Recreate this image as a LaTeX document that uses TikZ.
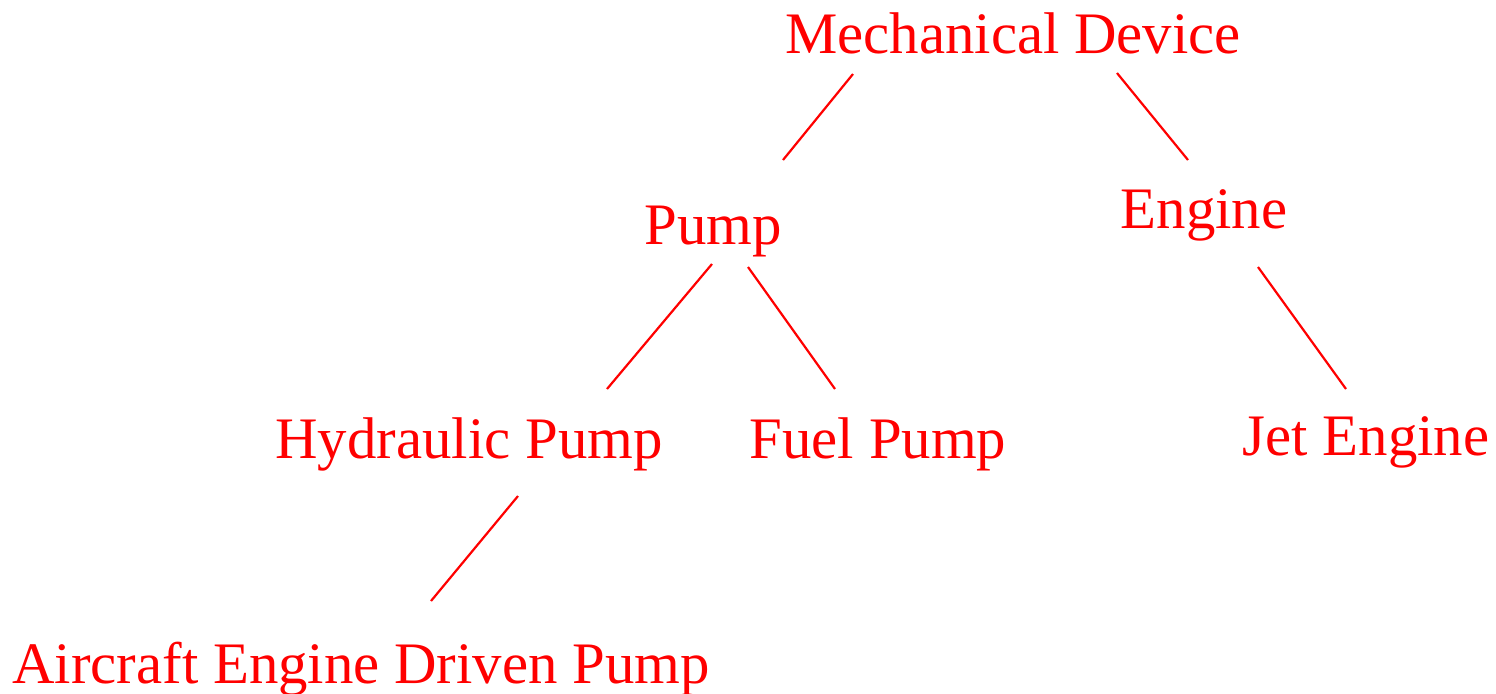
\documentclass[tikz,border=0pt]{standalone}
\usepackage{fontspec}
\setmainfont{Liberation Serif}
\begin{document}
\begin{tikzpicture}[x=0.5pt,y=-0.5pt,
  lbl/.style={text=red, font=\fontsize{29.4}{35}\selectfont, anchor=base, inner sep=0pt},
  edge/.style={draw=red, line width=1.1pt}]
\useasboundingbox (0,0) rectangle (1496,693);
\node[lbl] (md) at (1013,53) {Mechanical Device};
\node[lbl] (pump) at (713,244) {Pump};
\node[lbl] (eng) at (1204,228) {Engine};
\node[lbl] (hyd) at (469,458) {Hydraulic Pump};
\node[lbl] (fuel) at (878,458) {Fuel Pump};
\node[lbl] (jet) at (1366,455) {Jet Engine};
\node[lbl] (aed) at (361,683) {Aircraft Engine Driven Pump};
\coordinate (md-l) at (853,74);
\coordinate (pump-t) at (783,160);
\coordinate (md-r) at (1117,73);
\coordinate (eng-t) at (1188,160);
\coordinate (pump-l) at (712,264);
\coordinate (hyd-t) at (607,389);
\coordinate (pump-r) at (748,267);
\coordinate (fuel-t) at (835,389);
\coordinate (eng-b) at (1258,267);
\coordinate (jet-t) at (1346,389);
\coordinate (hyd-b) at (518,496);
\coordinate (aed-t) at (431,601);
\draw[edge] (md-l) -- (pump-t);
\draw[edge] (md-r) -- (eng-t);
\draw[edge] (pump-l) -- (hyd-t);
\draw[edge] (pump-r) -- (fuel-t);
\draw[edge] (eng-b) -- (jet-t);
\draw[edge] (hyd-b) -- (aed-t);
\end{tikzpicture}
\end{document}
